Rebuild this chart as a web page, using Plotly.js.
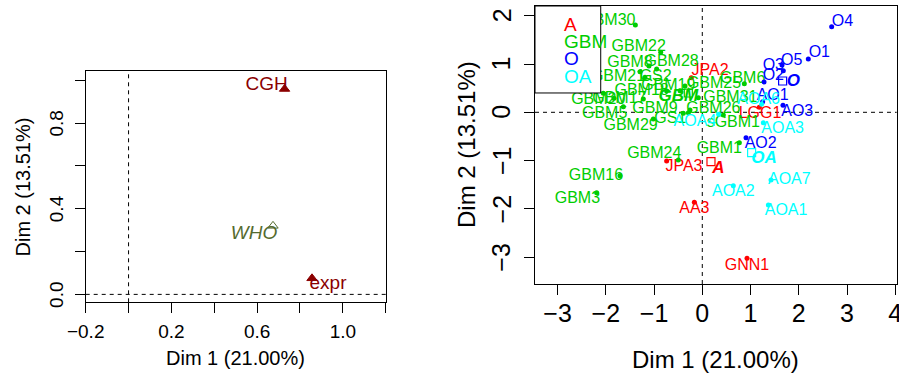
<!DOCTYPE html>
<html>
<head>
<meta charset="utf-8">
<script src="https://cdn.plot.ly/plotly-3.0.1.min.js"></script>
<style>html,body{margin:0;padding:0;background:#fff;}#chart{width:899px;height:377px;}</style>
</head>
<body>
<div id="chart"></div>
<script>
// ---------------- DATA ----------------
// Left panel: groups representation
const grpNames = ['CGH', 'WHO', 'expr'];
const grpDim1 = [0.728, 0.674, 0.856];
const grpDim2 = [0.959, 0.320, 0.075];

// Right panel: individuals by class
const aNames = ['JPA2', 'LGG1', 'JPA3', 'AA3', 'GNN1'];
const aDim1 = [-0.227, 1.182, -0.739, -0.165, 0.927];
const aDim2 = [0.717, 0.103, -1.008, -1.864, -3.023];

const oNames = ['O4', 'O1', 'O3', 'O5', 'O2', 'AO1', 'AO3', 'AO2'];
const oDim1 = [2.681, 2.197, 1.652, 1.679, 1.279, 1.251, 1.672, 0.906];
const oDim2 = [1.773, 1.104, 0.980, 0.862, 0.627, 0.220, 0.144, -0.525];

const oaNames = ['AOA3', 'AOA6', 'AOA4', 'AOA7', 'AOA2', 'AOA1'];
const oaDim1 = [1.265, 1.230, 0.339, 1.424, 0.643, 1.369];
const oaDim2 = [-0.215, 0.165, -0.042, -1.402, -1.519, -1.919];

const gbmNames = ['GBM30', 'GBM22', 'GBM28', 'GBM8', 'GBM21', 'GS2', 'GBM7', 'GBM20', 'GBM17', 'GBM18',
  'GBM19', 'GBM31', 'GBM25', 'GBM6', 'GBM9', 'GBM26', 'GBM5', 'GBM29', 'GS1', 'sGBM1',
  'GBM1', 'GBM24', 'GBM16', 'GBM3'];
const gbmDim1 = [-1.387, -0.862, -0.946, -1.105, -1.291, -1.188, -2.051, -1.830, -1.222, -0.739,
  -0.462, -0.082, -0.358, 0.871, -0.255, -0.289, -1.636, -1.015, -0.393, 0.436,
  0.768, -0.497, -1.706, -2.189];
const gbmDim2 = [1.808, 1.241, 0.896, 0.958, 0.841, 0.724, 0.393, 0.289, 0.275, 0.441,
  0.448, 0.303, 0.545, 0.593, 0.048, -0.008, 0.117, -0.139, -0.021, -0.056,
  -0.629, -0.988, -1.312, -1.664];

// Class centroids
const classNames = ['A', 'GBM', 'O', 'OA'];
const classDim1 = [0.18, -0.29, 1.665, 1.022];
const classDim2 = [-1.02, 0.40, 0.648, -0.836];

// Axis ticks
const leftXTicks = [-0.2, 0, 0.2, 0.4, 0.6, 0.8, 1.0, 1.2];
const leftXText = ['\u22120.2', '', '0.2', '', '0.6', '', '1.0', ''];
const leftYTicks = [0, 0.2, 0.4, 0.6, 0.8, 1.0];
const leftYText = ['0.0', '', '0.4', '', '0.8', ''];
const rightXTicks = [-3, -2, -1, 0, 1, 2, 3, 4];
const rightXText = ['\u22123', '\u22122', '\u22121', '0', '1', '2', '3', '4'];
const rightYTicks = [-3, -2, -1, 0, 1, 2];
const rightYText = ['\u22123', '\u22122', '\u22121', '0', '1', '2'];

// ---------------- LAYOUT / STYLE ----------------
const W = 899, H = 377;
const FONT = 'Liberation Sans, Arial, Helvetica, sans-serif';
const LB = {x0: 85.7, x1: 385.7, y0: 71, y1: 302.3};
const RB = {x0: 535, x1: 896.7, y0: 6, y1: 284};
const LXR = [-0.2, 1.2], LYR = [-0.037, 1.043];
const RXR = [-3.467, 4.029], RYR = [-3.555, 2.201];
const colA = '#FF0000', colGBM = '#00CD00', colO = '#0000FF', colOA = '#00FFFF';
const classColors = [colA, colGBM, colO, colOA];
const grpColors = ['#8B0000', '#556B2F', '#8B0000'];

// label offsets in pixels [dx, dy(up)]
const grpShift = [[-18, 4], [-19, -8], [16, -6]];
const aShift = [[18.7, 6.7], [0.7, -7], [17.3, -5.7], [0, -6.7], [0, -7.3]];
const oShift = [[10.7, 5], [11, 5.7], [-8.7, -1], [8.3, 9.7], [9.3, 6], [10, 5.3], [14.3, -6.7], [14.7, -6.7]];
const oaShift = [[19.3, -6.7], [-3, 4.3], [-23.7, -7.3], [18.3, 0], [0, -6.7], [17.7, -6]];
const gbmShift = [[-27, 4.3], [-22, 5], [15, 6.7], [-19, 3.3], [-22, -5], [10.7, 0.7], [-24, 8.3], [-15.7, -1.7], [-24, 0], [-25, 0],
  [-11.7, 4.7], [32, -0.7], [29, 1.7], [-1.7, 5], [-35, 1.3], [25, 3.3], [-18.7, -7.3], [-22.7, -7], [-13, -6], [10, -8.3],
  [-20, -6.7], [-24, 5.7], [-24, 0], [-19.3, -6.7]];
const classShift = [[7.3, -6.7], [-10, -3.7], [10.7, -1], [12.3, -6.3]];

function dom(box) {
  return {x: [box.x0 / W, box.x1 / W], y: [(H - box.y1) / H, (H - box.y0) / H]};
}
function shiftPts(xs, ys, sh, box, xr, yr) {
  const kx = (xr[1] - xr[0]) / (box.x1 - box.x0);
  const ky = (yr[1] - yr[0]) / (box.y1 - box.y0);
  return {
    x: xs.map((v, i) => v + sh[i][0] * kx),
    y: ys.map((v, i) => v + sh[i][1] * ky)
  };
}

const traces = [];
// Left panel
traces.push({
  type: 'scatter', mode: 'markers', x: grpDim1, y: grpDim2, xaxis: 'x', yaxis: 'y',
  marker: {symbol: ['triangle-up', 'triangle-up-open', 'triangle-up'], size: 9, color: grpColors, line: {color: grpColors, width: 1}},
  hoverinfo: 'skip'
});
const gl = shiftPts(grpDim1, grpDim2, grpShift, LB, LXR, LYR);
traces.push({
  type: 'scatter', mode: 'text', x: gl.x, y: gl.y, xaxis: 'x', yaxis: 'y',
  text: grpNames.map((n, i) => i === 1 ? '<i>' + n + '</i>' : n),
  textposition: 'middle center', cliponaxis: false,
  textfont: {family: FONT, size: 19, color: grpColors}, hoverinfo: 'skip'
});

// Right panel individuals
const groups = [
  [aNames, aDim1, aDim2, aShift, colA],
  [gbmNames, gbmDim1, gbmDim2, gbmShift, colGBM],
  [oNames, oDim1, oDim2, oShift, colO],
  [oaNames, oaDim1, oaDim2, oaShift, colOA]
];
groups.forEach(([names, xs, ys, sh, col]) => {
  traces.push({
    type: 'scatter', mode: 'markers', x: xs, y: ys, xaxis: 'x2', yaxis: 'y2',
    marker: {symbol: 'circle', size: 5, color: col}, hoverinfo: 'skip'
  });
  const p = shiftPts(xs, ys, sh, RB, RXR, RYR);
  traces.push({
    type: 'scatter', mode: 'text', x: p.x, y: p.y, xaxis: 'x2', yaxis: 'y2', text: names,
    textposition: 'middle center', textfont: {family: FONT, size: 16, color: col}, hoverinfo: 'skip'
  });
});
// centroids
traces.push({
  type: 'scatter', mode: 'markers', x: classDim1, y: classDim2, xaxis: 'x2', yaxis: 'y2',
  marker: {symbol: 'square-open', size: 8, color: classColors, line: {width: 1.2}}, hoverinfo: 'skip'
});
const cl = shiftPts(classDim1, classDim2, classShift, RB, RXR, RYR);
traces.push({
  type: 'scatter', mode: 'text', x: cl.x, y: cl.y, xaxis: 'x2', yaxis: 'y2',
  text: classNames.map(n => '<b><i>' + n + '</i></b>'),
  textposition: 'middle center', textfont: {family: FONT, size: 17, color: classColors}, hoverinfo: 'skip'
});

const dl = dom(LB), dr = dom(RB);
const axBase = {
  showline: true, mirror: true, linecolor: '#000', linewidth: 1, showgrid: false, zeroline: false,
  ticks: 'outside', ticklen: 10, tickcolor: '#000', tickwidth: 1, tickmode: 'array', fixedrange: true,
  ticklabeloverflow: 'allow'
};
const DASH = '4px,4px';
const layout = {
  width: W, height: H, margin: {l: 0, r: 0, t: 0, b: 0},
  paper_bgcolor: '#fff', plot_bgcolor: '#fff', showlegend: false,
  font: {family: FONT, color: '#000'},
  xaxis: Object.assign({}, axBase, {domain: dl.x, range: LXR, tickvals: leftXTicks, ticktext: leftXText,
    tickfont: {family: FONT, size: 19, color: '#000'}, anchor: 'y', ticklabelstandoff: 2}),
  yaxis: Object.assign({}, axBase, {domain: dl.y, range: LYR, tickvals: leftYTicks, showticklabels: false, anchor: 'x'}),
  xaxis2: Object.assign({}, axBase, {domain: dr.x, range: RXR, tickvals: rightXTicks, ticktext: rightXText,
    tickfont: {family: FONT, size: 25, color: '#000'}, anchor: 'y2', ticklabelstandoff: -3}),
  yaxis2: Object.assign({}, axBase, {domain: dr.y, range: RYR, tickvals: rightYTicks, showticklabels: false, anchor: 'x2'}),
  shapes: [
    {type: 'line', xref: 'x', yref: 'y domain', x0: 0, x1: 0, y0: 0, y1: 1, line: {color: '#000', width: 1, dash: DASH}, layer: 'below'},
    {type: 'line', xref: 'x domain', yref: 'y', x0: 0, x1: 1, y0: 0, y1: 0, line: {color: '#000', width: 1, dash: DASH}, layer: 'below'},
    {type: 'line', xref: 'x2', yref: 'y2 domain', x0: 0, x1: 0, y0: 0, y1: 1, line: {color: '#000', width: 1, dash: DASH}, layer: 'below'},
    {type: 'line', xref: 'x2 domain', yref: 'y2', x0: 0, x1: 1, y0: 0, y1: 0, line: {color: '#000', width: 1, dash: DASH}, layer: 'below'},
    {type: 'rect', xref: 'x2', yref: 'y2', x0: RXR[0], x1: -2.105, y0: 0.40, y1: RYR[1], fillcolor: '#fff', line: {color: '#000', width: 1}, layer: 'above'}
  ],
  annotations: [
    {text: 'Dim 1 (21.00%)', xref: 'paper', yref: 'paper', x: 235.7 / W, y: (H - 358) / H, showarrow: false, xanchor: 'center', yanchor: 'middle', font: {family: FONT, size: 20}},
    {text: 'Dim 2 (13.51%)', xref: 'paper', yref: 'paper', x: 22.5 / W, y: (H - 187) / H, showarrow: false, textangle: -90, xanchor: 'center', yanchor: 'middle', font: {family: FONT, size: 20}},
    {text: 'Dim 1 (21.00%)', xref: 'paper', yref: 'paper', x: 715.5 / W, y: (H - 359) / H, showarrow: false, xanchor: 'center', yanchor: 'middle', font: {family: FONT, size: 24}},
    {text: 'Dim 2 (13.51%)', xref: 'paper', yref: 'paper', x: 466 / W, y: (H - 145) / H, showarrow: false, textangle: -90, xanchor: 'center', yanchor: 'middle', font: {family: FONT, size: 24}}
  ]
};
// y tick labels (vertical, as in the reference)
leftYTicks.forEach((v, i) => {
  if (!leftYText[i]) return;
  layout.annotations.push({text: leftYText[i], xref: 'paper', yref: 'y', x: 56.5 / W, y: v, showarrow: false,
    textangle: -90, xanchor: 'center', yanchor: 'middle', font: {family: FONT, size: 19, color: '#000'}});
});
rightYTicks.forEach((v, i) => {
  layout.annotations.push({text: rightYText[i], xref: 'paper', yref: 'y2', x: 501.5 / W, y: v, showarrow: false,
    textangle: -90, xanchor: 'center', yanchor: 'middle', font: {family: FONT, size: 25, color: '#000'}});
});
// legend in the right panel
const legY = [1.828, 1.456, 1.104, 0.731];
classNames.forEach((n, i) => {
  layout.annotations.push({text: n, xref: 'x2', yref: 'y2', x: -2.908, y: legY[i], showarrow: false,
    xanchor: 'left', yanchor: 'middle', font: {family: FONT, size: 19, color: classColors[i]}});
});

Plotly.newPlot('chart', traces, layout, {staticPlot: true, displayModeBar: false});
</script>
</body>
</html>
